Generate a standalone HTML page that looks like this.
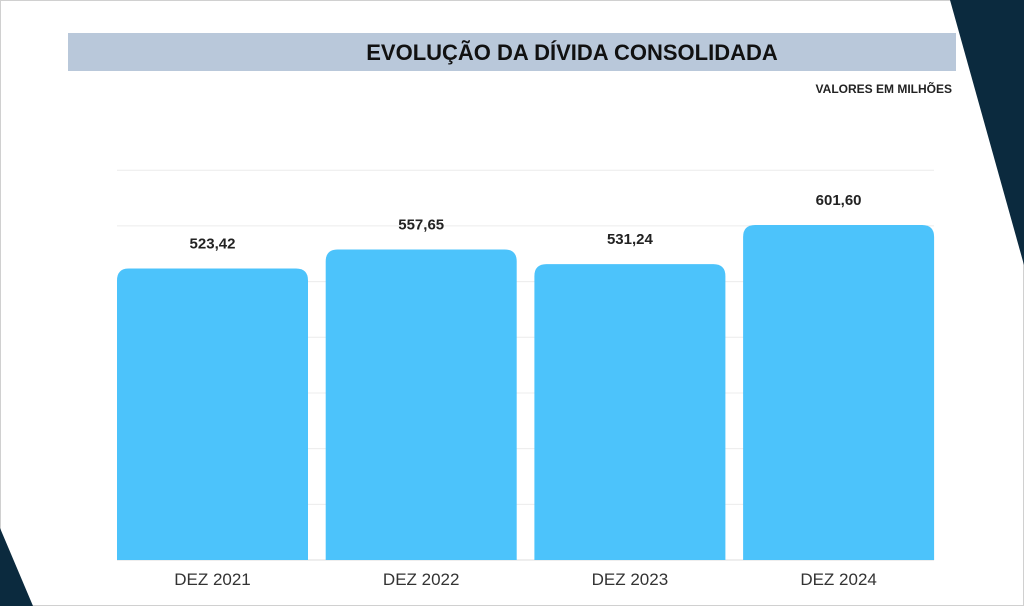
<!DOCTYPE html>
<html><head><meta charset="utf-8"><style>
body{margin:0;width:1024px;height:606px;overflow:hidden;background:#fff;font-family:"Liberation Sans",sans-serif}
</style></head><body>
<svg width="1024" height="606">
<rect x="0.5" y="0.5" width="1023" height="605" fill="#fff" stroke="#d0d0d0"/>
<polygon points="950,0 1024,0 1024,265" fill="#0b2a3e"/>
<polygon points="0,528 33,606 0,606" fill="#0b2a3e"/>
<rect x="68" y="33" width="888" height="38" fill="#b9c8da"/>
<text x="572" y="60" text-anchor="middle" font-size="22" font-weight="bold" fill="#111">EVOLUÇÃO DA DÍVIDA CONSOLIDADA</text>
<text x="952" y="93" text-anchor="end" font-size="12" font-weight="bold" fill="#222">VALORES EM MILHÕES</text>
<g id="grid"></g><g id="bars"></g>
</svg>
<script>
const categories=["DEZ 2021","DEZ 2022","DEZ 2023","DEZ 2024"];
const values=[523.42,557.65,531.24,601.60];
const labels=["523,42","557,65","531,24","601,60"];
const gridTicks=[100,200,300,400,500,600,700];
const base=560,k=335/601.6;
const y=v=>base-v*k;
const x0=117,step=208.7,bw=191;
const NS="http://www.w3.org/2000/svg";
const g=document.getElementById('grid'),b=document.getElementById('bars');
function mk(t,a,p){const e=document.createElementNS(NS,t);for(const n in a)e.setAttribute(n,a[n]);p.appendChild(e);return e;}
gridTicks.forEach(v=>{const l=mk('line',{x1:117,x2:934,y1:y(v),y2:y(v),stroke:'#ececec'},g);

});
const bl=mk('line',{x1:117,x2:934,y1:base,y2:base,stroke:'#ddd'},g);


values.forEach((v,i)=>{const x=x0+i*step,t=y(v),r=12;
const p=mk('path',{d:`M${x},${base}V${t+r}Q${x},${t} ${x+r},${t}H${x+bw-r}Q${x+bw},${t} ${x+bw},${t+r}V${base}Z`,fill:'#4cc3fb'},b);


const tv=mk('text',{x:x+bw/2,y:t-20,'text-anchor':'middle','font-size':15,'font-weight':'bold',fill:'#222'},b);tv.textContent=labels[i];


const tc=mk('text',{x:x+bw/2,y:585,'text-anchor':'middle','font-size':17,fill:'#333'},b);tc.textContent=categories[i];

});
</script>
</body></html>
